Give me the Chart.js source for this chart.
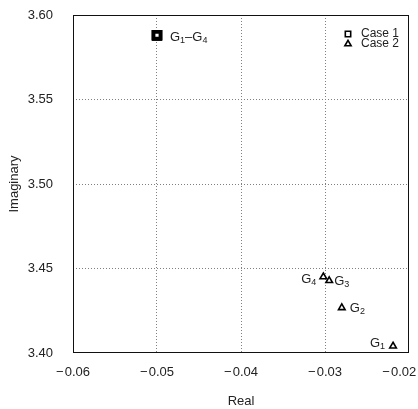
<!DOCTYPE html>
<html>
<head>
<meta charset="utf-8">
<script src="https://cdn.jsdelivr.net/npm/chart.js@4/dist/chart.umd.min.js"></script>
<style>
  html, body { margin: 0; padding: 0; background: #fff; }
  canvas { display: block; }
</style>
</head>
<body>
<canvas id="c" width="418" height="409"></canvas>
<script>
// ---- data ----
const seriesNames = ['Case 1', 'Case 2'];
const case1Real = [-0.0500, -0.0500, -0.0500, -0.0500];
const case1Imag = [3.5880, 3.5880, 3.5880, 3.5880];
const case2Real = [-0.0219, -0.0280, -0.0295, -0.0302];
const case2Imag = [3.4041, 3.4268, 3.4428, 3.4451];
const case2Labels = [['G', '1'], ['G', '2'], ['G', '3'], ['G', '4']];
const case1Label = [['G', '1'], ['\u2013G', '4']];
const xTicks = [-0.06, -0.05, -0.04, -0.03, -0.02];
const xTickLabels = ['\u2212\u200A0.06', '\u2212\u200A0.05', '\u2212\u200A0.04', '\u2212\u200A0.03', '\u2212\u200A0.02\u2003\u2002'];
const yTicks = [3.40, 3.45, 3.50, 3.55, 3.60];
const yTickLabels = ['3.40', '3.45', '3.50', '3.55', '3.60'];
const xTitle = 'Real';
const yTitle = 'Imaginary';

// ---- styling ----
const FONT = '"Liberation Sans", Arial, sans-serif';
const TXT = '#222';
// label placement: [dx, dy, align] relative to each Case 2 point
const case2LabelPlace = [[-8, -3, 'right'], [8, 1, 'left'], [5, 1, 'left'], [-7, 3, 'right']];
const case1LabelPlace = [13, 2, 'left'];

function drawSubText(ctx, parts, x, y, align) {
  const big = '13px ' + FONT, small = '9px ' + FONT;
  let w = 0;
  parts.forEach((p, i) => {
    ctx.font = (i % 2 === 0) ? big : small;
    w += ctx.measureText(p).width;
  });
  let cx = align === 'right' ? x - w : x;
  ctx.textBaseline = 'middle';
  ctx.textAlign = 'left';
  parts.forEach((p, i) => {
    const sub = i % 2 === 1;
    ctx.font = sub ? small : big;
    ctx.fillText(p, cx, sub ? y + 3 : y);
    cx += ctx.measureText(p).width;
  });
}

const extras = {
  id: 'extras',
  afterDatasetsDraw(chart) {
    const ctx = chart.ctx;
    const xs = chart.scales.x, ys = chart.scales.y;
    const a = chart.chartArea;
    ctx.save();
    ctx.fillStyle = TXT;
    // Case 2 labels
    case2Real.forEach((v, i) => {
      const px = xs.getPixelForValue(v), py = ys.getPixelForValue(case2Imag[i]);
      const [dx, dy, al] = case2LabelPlace[i];
      drawSubText(ctx, case2Labels[i], px + dx, py + dy, al);
    });
    // Case 1 label
    {
      const px = xs.getPixelForValue(case1Real[0]), py = ys.getPixelForValue(case1Imag[0]);
      drawSubText(ctx, [case1Label[0][0], case1Label[0][1], case1Label[1][0], case1Label[1][1]],
        px + case1LabelPlace[0], py + case1LabelPlace[1], case1LabelPlace[2]);
    }
    // legend
    const lx = a.right - 61, ly0 = a.top + 19, lstep = 10;
    chart.data.datasets.forEach((ds, i) => {
      const y = ly0 + i * lstep;
      ctx.fillStyle = '#fff';
      ctx.strokeStyle = '#000';
      ctx.lineWidth = 1.6;
      Chart.helpers.drawPoint(ctx, {
        pointStyle: ds.pointStyle, radius: ds.pointStyle === 'rect' ? 3.8 : 3.6,
        rotation: 0, borderWidth: 1.6
      }, lx, y);
      ctx.font = '12px ' + FONT;
      ctx.fillStyle = TXT;
      ctx.textAlign = 'left';
      ctx.textBaseline = 'middle';
      ctx.fillText(ds.label, lx + 13, y);
    });
    // frame
    ctx.strokeStyle = '#111';
    ctx.lineWidth = 1;
    ctx.strokeRect(Math.round(a.left) + 0.5, Math.round(a.top) + 0.5,
      Math.round(a.right - a.left) - 1, Math.round(a.bottom - a.top) - 1);
    ctx.restore();
  }
};

function gridColor(ticksArr) {
  return (c) => {
    const v = c.tick ? c.tick.value : null;
    if (v === ticksArr[0] || v === ticksArr[ticksArr.length - 1]) return 'rgba(0,0,0,0)';
    return '#808080';
  };
}

function zeroPad(s) {
  s.paddingLeft = 0; s.paddingRight = 0; s.paddingTop = 0; s.paddingBottom = 0;
}

new Chart(document.getElementById('c'), {
  type: 'scatter',
  data: {
    datasets: [
      {
        label: seriesNames[0],
        data: case1Real.map((x, i) => ({ x, y: case1Imag[i] })),
        pointStyle: 'rect', pointRadius: 4.8, borderWidth: 3.6,
        borderColor: '#000', backgroundColor: '#fff'
      },
      {
        label: seriesNames[1],
        data: case2Real.map((x, i) => ({ x, y: case2Imag[i] })),
        pointStyle: 'triangle', pointRadius: 3.8, borderWidth: 1.6,
        borderColor: '#000', backgroundColor: '#fff'
      }
    ]
  },
  options: {
    responsive: false,
    devicePixelRatio: 1,
    animation: false,
    layout: { padding: { top: 15, right: 9, left: 0, bottom: 0 } },
    plugins: { legend: { display: false }, tooltip: { enabled: false } },
    scales: {
      x: {
        type: 'linear', min: -0.06, max: -0.02,
        afterBuildTicks: (s) => { s.ticks = xTicks.map(v => ({ value: v })); },
        afterFit: (s) => { s.height = 56; zeroPad(s); },
        ticks: {
          callback: (v, i) => xTickLabels[i],
          font: { family: FONT, size: 13 }, color: TXT, padding: 12, maxRotation: 0
        },
        grid: { color: gridColor(xTicks), drawTicks: false, lineWidth: 1 },
        border: { display: false, dash: [1, 2] },
        title: { display: true, text: xTitle, font: { family: FONT, size: 13 }, color: TXT, padding: { top: 1, bottom: 0 } }
      },
      y: {
        type: 'linear', min: 3.40, max: 3.60,
        afterBuildTicks: (s) => { s.ticks = yTicks.map(v => ({ value: v })); },
        afterFit: (s) => { s.width = 73; zeroPad(s); },
        ticks: {
          callback: (v, i) => yTickLabels[i],
          font: { family: FONT, size: 13 }, color: TXT, padding: 20
        },
        grid: { color: gridColor(yTicks), drawTicks: false, lineWidth: 1 },
        border: { display: false, dash: [1, 2] },
        title: { display: true, text: yTitle, font: { family: FONT, size: 13 }, color: TXT, padding: { top: 7, bottom: 0 } }
      }
    }
  },
  plugins: [extras]
});
</script>
</body>
</html>
